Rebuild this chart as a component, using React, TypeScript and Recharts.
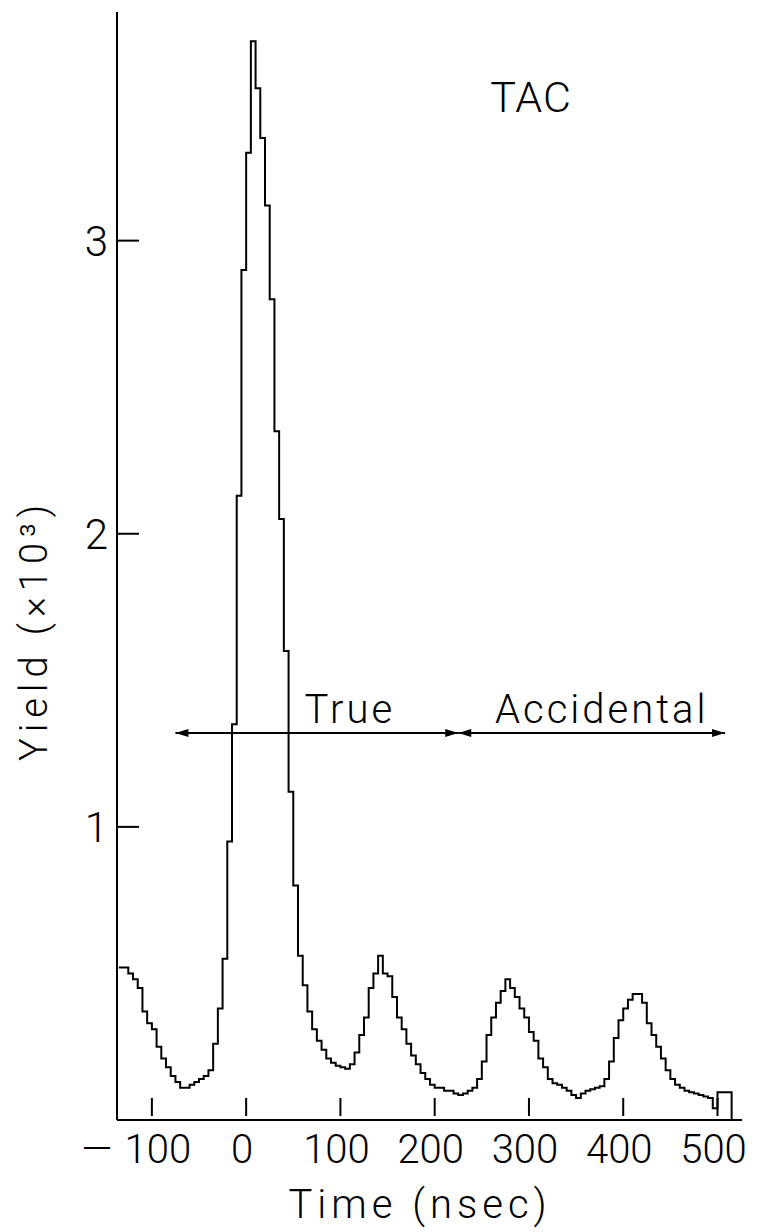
import React from "react";
import {
  LineChart,
  Line,
  XAxis,
  YAxis,
  ReferenceLine,
  ReferenceDot,
} from "recharts";

// bin start times (ns) and yields (x10^3)
const times = [
  -135, -130, -125, -120, -115, -110, -105, -100, -95, -90,
  -85, -80, -75, -70, -65, -60, -55, -50, -45, -40,
  -35, -30, -25, -20, -15, -10, -5, 0, 5, 10,
  15, 20, 25, 30, 35, 40, 45, 50, 55, 60,
  65, 70, 75, 80, 85, 90, 95, 100, 105, 110,
  115, 120, 125, 130, 135, 140, 145, 150, 155, 160,
  165, 170, 175, 180, 185, 190, 195, 200, 205, 210,
  215, 220, 225, 230, 235, 240, 245, 250, 255, 260,
  265, 270, 275, 280, 285, 290, 295, 300, 305, 310,
  315, 320, 325, 330, 335, 340, 345, 350, 355, 360,
  365, 370, 375, 380, 385, 390, 395, 400, 405, 410,
  415, 420, 425, 430, 435, 440, 445, 450, 455, 460,
  465, 470, 475, 480, 485, 490, 495, 500, 505, 510,
  515,
];

const yields = [
  0.52, 0.52, 0.5, 0.48, 0.45, 0.37, 0.33, 0.31, 0.25, 0.21,
  0.18, 0.15, 0.13, 0.11, 0.11, 0.12, 0.13, 0.14, 0.15, 0.17,
  0.26, 0.38, 0.55, 0.95, 1.35, 2.13, 2.9, 3.3, 3.68, 3.52,
  3.35, 3.12, 2.8, 2.35, 2.05, 1.6, 1.12, 0.8, 0.56, 0.46,
  0.37, 0.31, 0.27, 0.24, 0.21, 0.195, 0.185, 0.18, 0.175, 0.19,
  0.23, 0.29, 0.35, 0.45, 0.5, 0.56, 0.5, 0.49, 0.42, 0.35,
  0.31, 0.26, 0.22, 0.19, 0.16, 0.14, 0.12, 0.11, 0.11, 0.1,
  0.1, 0.09, 0.085, 0.09, 0.1, 0.11, 0.14, 0.2, 0.29, 0.35,
  0.4, 0.44, 0.48, 0.45, 0.42, 0.38, 0.35, 0.3, 0.27, 0.21,
  0.18, 0.14, 0.125, 0.12, 0.11, 0.1, 0.085, 0.075, 0.09, 0.1,
  0.105, 0.11, 0.115, 0.14, 0.2, 0.28, 0.34, 0.38, 0.41, 0.43,
  0.43, 0.4, 0.33, 0.29, 0.25, 0.21, 0.17, 0.14, 0.12, 0.11,
  0.1, 0.095, 0.09, 0.085, 0.08, 0.075, 0.04, 0.095, 0.095, 0.095,
  0,
];

const xTicks = [-100, 0, 100, 200, 300, 400, 500];
const yTicks = [1, 2, 3];

// arrows: True window and Accidental window
const arrowLevel = 1.32;
const trueRange = [-75, 225];
const accRange = [225, 508];

const FONT = "Roboto, 'Liberation Sans', sans-serif";

const data = times.map((t, i) => ({ t, v: yields[i] }));

function XTick(props: any) {
  const { x, y, payload } = props;
  const v = payload.value as number;
  return (
    <g>
      <line x1={x} x2={x} y1={y - 22} y2={y - 4} stroke="#000" strokeWidth={2} />
      {v < 0 ? (
        <>
          <text x={x - 55} y={y + 43} textAnchor="middle" fontSize={40} fontWeight={300} fontFamily={FONT}>—</text>
          <text x={x + 6} y={y + 43} textAnchor="middle" fontSize={40} fontWeight={300} fontFamily={FONT}>
            {Math.abs(v)}
          </text>
        </>
      ) : (
        <text x={x - 4} y={y + 43} textAnchor="middle" fontSize={40} fontWeight={300} fontFamily={FONT}>
          {v}
        </text>
      )}
    </g>
  );
}

function YTick(props: any) {
  const { x, y, payload } = props;
  return (
    <g>
      <line x1={x} x2={x + 22} y1={y} y2={y} stroke="#000" strokeWidth={2} />
      <text x={x - 9} y={y + 15} textAnchor="end" fontSize={42} fontWeight={300} fontFamily={FONT}>
        {payload.value}
      </text>
    </g>
  );
}

function Arrow(props: any) {
  const { x1, y1, x2, y2 } = props;
  return (
    <g>
      <line x1={x1} y1={y1} x2={x2} y2={y2} stroke="#000" strokeWidth={2} />
      <path d={`M${x1},${y1} L${x1 + 13},${y1 - 4} L${x1 + 13},${y1 + 4} Z`} fill="#000" />
      <path d={`M${x2},${y2} L${x2 - 13},${y2 - 4} L${x2 - 13},${y2 + 4} Z`} fill="#000" />
    </g>
  );
}

const textDot = (label: string, size: number, spacing: number) => (p: any) => (
  <text x={p.cx} y={p.cy} fontSize={size} fontWeight={300} fontFamily={FONT} letterSpacing={spacing}>
    {label}
  </text>
);

export default function App() {
  return (
    <div style={{ position: "absolute", left: 0, top: 0, width: 758, height: 1232, background: "#fff" }}>
      <LineChart
        width={758}
        height={1232}
        data={data}
        margin={{ top: 12, right: 16, bottom: 0, left: 0 }}
      >
        <XAxis
          dataKey="t"
          type="number"
          domain={[-137, 526]}
          ticks={xTicks}
          allowDataOverflow
          height={112}
          tickSize={0}
          tickMargin={0}
          tick={<XTick />}
          axisLine={{ stroke: "#000", strokeWidth: 2 }}
          label={{
            content: () => (
              <text x={420} y={1218} textAnchor="middle" fontSize={40} fontWeight={300} fontFamily={FONT} letterSpacing={5}>
                Time (nsec)
              </text>
            ),
          }}
        />
        <YAxis
          type="number"
          domain={[0, 3.78]}
          ticks={yTicks}
          allowDataOverflow
          width={117}
          tickSize={0}
          tickMargin={0}
          tick={<YTick />}
          axisLine={{ stroke: "#000", strokeWidth: 2 }}
          label={{
            content: () => (
              <text
                transform="translate(47,630) rotate(-90)"
                textAnchor="middle"
                fontSize={38}
                fontWeight={300}
                fontFamily={FONT}
                letterSpacing={6}
              >
                Yield (×10³)
              </text>
            ),
          }}
        />
        <ReferenceLine
          segment={[{ x: trueRange[0], y: arrowLevel }, { x: trueRange[1], y: arrowLevel }]}
          shape={<Arrow />}
        />
        <ReferenceLine
          segment={[{ x: accRange[0], y: arrowLevel }, { x: accRange[1], y: arrowLevel }]}
          shape={<Arrow />}
        />
        <ReferenceDot x={62} y={arrowLevel + 0.035} r={0} shape={textDot("True", 40, 3)} />
        <ReferenceDot x={264} y={arrowLevel + 0.035} r={0} shape={textDot("Accidental", 40, 3)} />
        <ReferenceDot x={259} y={3.44} r={0} shape={textDot("TAC", 43, 1)} />
        <Line
          type="stepAfter"
          dataKey="v"
          stroke="#000"
          strokeWidth={2}
          dot={false}
          isAnimationActive={false}
        />
      </LineChart>
    </div>
  );
}
